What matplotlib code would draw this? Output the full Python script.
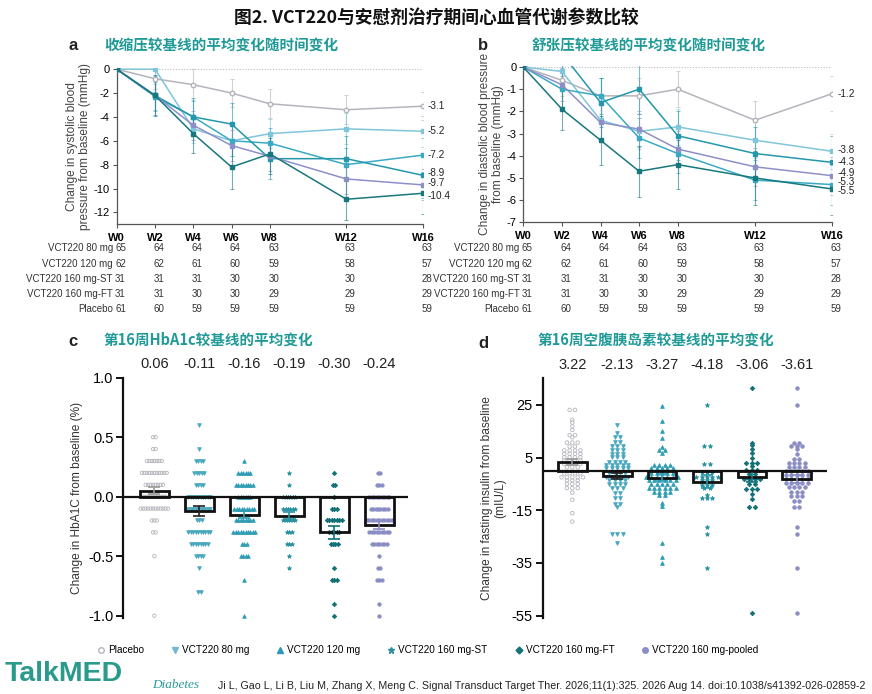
import numpy as np
import matplotlib
matplotlib.use("Agg")
import matplotlib.pyplot as plt
from matplotlib.lines import Line2D
from matplotlib import transforms
from matplotlib.colors import to_rgba

plt.rcParams['font.family'] = ['Liberation Sans', 'Noto Sans CJK SC', 'DejaVu Sans']
plt.rcParams['axes.unicode_minus'] = False

# ---------------- data ----------------
weeks = [0, 2, 4, 6, 8, 12, 16]
week_labels = ['W0', 'W2', 'W4', 'W6', 'W8', 'W12', 'W16']

table_rows = ['VCT220 80 mg', 'VCT220 120 mg', 'VCT220 160 mg-ST', 'VCT220 160 mg-FT', 'Placebo']
n_80 = [65, 64, 64, 64, 63, 63, 63]
n_120 = [62, 62, 61, 60, 59, 58, 57]
n_st = [31, 31, 31, 30, 30, 30, 28]
n_ft = [31, 31, 30, 30, 29, 29, 29]
n_placebo = [61, 60, 59, 59, 59, 59, 59]

# systolic BP change (mmHg)
sbp_placebo = [0, -0.8, -1.3, -2.0, -2.9, -3.4, -3.1]
sbp_80 = [0, 0.0, -5.0, -6.0, -5.4, -5.0, -5.2]
sbp_120 = [0, -2.3, -4.0, -6.0, -6.2, -8.0, -7.2]
sbp_st = [0, -2.2, -4.0, -4.6, -7.5, -7.5, -8.9]
sbp_ft = [0, -2.2, -5.4, -8.2, -7.1, -10.9, -10.4]
sbp_pooled = [0, -2.2, -4.7, -6.4, -7.3, -9.2, -9.7]
sbp_placebo_se = [0, 0.9, 1.3, 1.2, 1.2, 1.2, 1.2]
sbp_80_se = [0, 1.2, 1.2, 1.3, 1.2, 1.3, 1.3]
sbp_120_se = [0, 1.2, 1.3, 1.3, 1.3, 1.4, 1.4]
sbp_st_se = [0, 1.6, 1.6, 1.8, 1.7, 1.9, 1.9]
sbp_ft_se = [0, 1.7, 1.6, 1.8, 1.7, 1.7, 1.7]
sbp_pooled_se = [0, 1.2, 1.2, 1.3, 1.2, 1.3, 1.3]

# diastolic BP change (mmHg)
dbp_placebo = [0, -0.6, -1.3, -1.3, -1.0, -2.4, -1.2]
dbp_80 = [0, -0.2, -2.4, -2.9, -2.7, -3.3, -3.8]
dbp_120 = [0, -1.0, -1.3, -3.2, -3.9, -5.1, -5.3]
dbp_st = [0, 0.6, -1.6, -1.0, -3.1, -3.9, -4.3]
dbp_ft = [0, -1.9, -3.3, -4.7, -4.4, -5.0, -5.5]
dbp_pooled = [0, -0.8, -2.5, -2.8, -3.7, -4.5, -4.9]
dbp_placebo_se = [0, 0.7, 0.8, 0.8, 0.8, 0.85, 0.8]
dbp_80_se = [0, 0.7, 0.8, 0.8, 0.8, 0.8, 0.8]
dbp_120_se = [0, 0.8, 0.8, 0.9, 0.9, 0.9, 0.9]
dbp_st_se = [0, 1.0, 1.1, 1.1, 1.1, 1.2, 1.2]
dbp_ft_se = [0, 0.95, 1.1, 1.15, 1.1, 1.2, 1.15]
dbp_pooled_se = [0, 0.75, 0.8, 0.8, 0.8, 0.85, 0.85]

# HbA1c change at week 16 (%): value levels and number of patients at each
hba_vals_placebo = [0.5, 0.4, 0.3, 0.2, 0.1, 0.0, -0.1, -0.2, -0.3, -0.5, -1.0]
hba_cnt_placebo = [2, 2, 7, 11, 8, 10, 12, 3, 2, 1, 1]
hba_vals_80 = [0.6, 0.4, 0.3, 0.2, 0.1, 0.0, -0.1, -0.2, -0.3, -0.4, -0.5, -0.6, -0.8]
hba_cnt_80 = [1, 1, 4, 5, 4, 10, 10, 3, 10, 8, 4, 1, 2]
hba_vals_120 = [0.3, 0.2, 0.1, 0.0, -0.1, -0.2, -0.3, -0.4, -0.5, -0.7, -1.0]
hba_cnt_120 = [1, 6, 8, 6, 9, 8, 10, 3, 4, 1, 1]
hba_vals_st = [0.2, 0.1, 0.0, -0.1, -0.2, -0.3, -0.4, -0.5, -0.6]
hba_cnt_st = [1, 1, 6, 6, 6, 3, 3, 1, 1]
hba_vals_ft = [0.2, 0.1, 0.0, -0.1, -0.2, -0.3, -0.4, -0.6, -0.7, -0.9, -1.0]
hba_cnt_ft = [1, 2, 1, 3, 7, 5, 4, 1, 3, 1, 1]
hba_vals_pooled = [0.2, 0.1, 0.0, -0.1, -0.2, -0.3, -0.4, -0.5, -0.6, -0.7, -0.9, -1.0]
hba_cnt_pooled = [2, 3, 9, 8, 11, 9, 7, 1, 2, 3, 1, 1]
hba_bar = [0.05, -0.12, -0.15, -0.16, -0.30, -0.24]
hba_se = [0.03, 0.04, 0.03, 0.03, 0.055, 0.035]
hba_labels = ['0.06', '-0.11', '-0.16', '-0.19', '-0.30', '-0.24']

# fasting insulin change at week 16 (mIU/L)
ins_vals_placebo = [23.1, 19.3, 18.3, 16.8, 15.5, 13.5, 12.7, 10.7, 9.2, 7.7, 6.4, 5.1, 3.9,
                    2.6, 1.3, -1.0, -2.5, -3.7, -5.0, -6.6, -8.3, -11.0, -16.1, -19.3]
ins_cnt_placebo = [2, 1, 1, 1, 1, 2, 1, 3, 2, 4, 4, 4, 4, 4, 3, 4, 5, 3, 3, 3, 1, 1, 1, 1]
ins_vals_80 = [17.4, 14.2, 12.7, 11.1, 9.4, 7.7, 6.4, 5.1, 3.5, 2.2, 0.9, -0.7, -2.2, -3.5,
               -5.0, -6.6, -8.3, -10.4, -12.6, -13.6, -24.0, -27.3]
ins_cnt_80 = [1, 1, 2, 2, 3, 3, 3, 3, 4, 5, 5, 4, 5, 4, 4, 3, 2, 2, 2, 1, 3, 1]
ins_vals_120 = [24.6, 18.7, 15.1, 12.3, 9.2, 7.7, 6.6, 2.2, 0.9, -0.7, -2.2, -3.5, -5.0, -6.6,
                -7.9, -9.2, -12.1, -13.4, -27.5, -32.6, -35.1]
ins_cnt_120 = [1, 1, 1, 1, 1, 2, 1, 4, 5, 5, 7, 6, 5, 6, 4, 2, 1, 1, 1, 1, 1]
ins_vals_st = [25.0, 9.4, 2.6, -0.3, -2.2, -3.5, -5.4, -6.6, -9.2, -10.4, -21.2, -24.0, -37.0]
ins_cnt_st = [1, 2, 2, 3, 5, 3, 3, 2, 1, 3, 1, 1, 1]
ins_vals_ft = [31.3, 10.7, 9.7, 8.2, 6.6, 4.7, 2.8, 1.8, 0.3, -1.3, -3.2, -5.0, -7.0, -8.8,
               -10.8, -13.6, -54.1]
ins_cnt_ft = [1, 1, 1, 1, 1, 1, 3, 1, 3, 2, 4, 2, 3, 1, 1, 2, 1]
ins_vals_pooled = [31.3, 25.0, 10.7, 9.4, 8.2, 6.4, 4.4, 2.8, 1.3, 0.0, -1.6, -3.2, -4.7, -6.3,
                   -7.9, -9.6, -11.3, -13.6, -21.2, -24.0, -37.0, -54.1]
ins_cnt_pooled = [1, 1, 2, 3, 1, 1, 2, 4, 4, 5, 5, 5, 5, 4, 3, 3, 2, 2, 1, 1, 1, 1]
ins_bar = [3.2, -1.9, -2.6, -4.2, -2.2, -3.1]
ins_se = [1.2, 1.2, 1.3, 2.4, 2.2, 1.5]
ins_labels = ['3.22', '-2.13', '-3.27', '-4.18', '-3.06', '-3.61']

# ---------------- styles ----------------
C_PLA = '#b4b4bc'
C_80 = '#80c6da'
C_120 = '#3aaac4'
C_ST = '#2497ab'
C_FT = '#17787e'
C_POOL = '#8d90c8'
TEAL_TITLE = '#1f9a96'

fig = plt.figure(figsize=(8.72, 6.94), dpi=100)
W, H = 872.0, 694.0


def px_axes(l, r, t, b):
    return fig.add_axes([l / W, 1 - b / H, (r - l) / W, (b - t) / H])


def line_panel(ax, series, ses, ylim, yticks, ylabel, end_dy):
    ax.axhline(0, color='#bdbdbd', lw=0.8, ls=(0, (1, 1.5)), zorder=0)
    cols = [C_PLA, C_80, C_120, C_ST, C_POOL, C_FT]
    for vals, se, col in zip(series, ses, cols):
        is_pla = col == C_PLA
        ax.errorbar(weeks, vals, yerr=se, color=col, lw=1.1,
                    marker='o' if is_pla else 's', ms=3.2 if is_pla else 2.2,
                    mfc='white' if is_pla else col, mec=col,
                    ecolor=to_rgba(col, 0.6), elinewidth=0.8, capsize=1.6,
                    capthick=0.7, zorder=3)
    for vals, col, dy in zip(series, cols, end_dy):
        ax.text(16.25, vals[-1] + dy, '-' + '%.1f' % abs(vals[-1]), fontsize=7.2,
                color='#222', va='center', ha='left', clip_on=False)
    ax.set_xlim(0, 16)
    ax.set_ylim(*ylim)
    ax.set_yticks(yticks)
    ax.set_yticklabels([str(v) for v in yticks])
    ax.set_xticks(weeks)
    ax.set_xticklabels(week_labels, fontweight='bold')
    for s in ['top', 'right']:
        ax.spines[s].set_visible(False)
    for s in ['left', 'bottom']:
        ax.spines[s].set_color('#555555')
        ax.spines[s].set_linewidth(0.9)
    ax.tick_params(labelsize=8, length=3, color='#555555', pad=2)
    ax.tick_params(axis='x', labelsize=8, pad=3)
    ax.set_ylabel(ylabel, fontsize=8.6, color='#444', linespacing=1.1, labelpad=2)
    # number-at-risk table
    tr = transforms.blended_transform_factory(ax.transData, fig.transFigure)
    rows_px = [248, 264, 279, 294, 309]
    for name, ns, ypx in zip(table_rows, [n_80, n_120, n_st, n_ft, n_placebo], rows_px):
        yf = 1 - ypx / H
        ax.text(-0.2, yf, name, transform=tr, ha='right', va='center',
                fontsize=7.0, color='#333')
        for wk, n in zip(weeks, ns):
            ax.text(wk + 0.2, yf, str(n), transform=tr, ha='center', va='center',
                    fontsize=7.0, color='#333')


def swarm_positions(vals, cnts, x0, step):
    xs, ys = [], []
    for v, c in zip(vals, cnts):
        off = (np.arange(c) - (c - 1) / 2.0) * step
        xs.extend(x0 + off)
        ys.extend([v] * c)
    return xs, ys


def dot_panel(ax, groups, bars, ses, labels, ylim, yticks, ylabel, step, ms_scale):
    styles = [('o', 'none', C_PLA, 1.0), ('v', '#4aa8bf', '#4aa8bf', 1.1),
              ('^', '#2e9db3', '#2e9db3', 1.1), ('*', '#2a93a3', '#2a93a3', 1.5),
              ('D', '#127177', '#127177', 0.8), ('o', '#8a8dc4', '#8a8dc4', 1.0)]
    err_cols = ['#999999', '#222222', '#2e9db3', '#2a93a3', '#127177', '#8a8dc4']
    for i, ((vals, cnts), (mk, fc, ec, sc)) in enumerate(zip(groups, styles)):
        xs, ys = swarm_positions(vals, cnts, i, step)
        ax.scatter(xs, ys, s=ms_scale * sc, marker=mk, facecolors=fc, edgecolors=ec,
                   linewidths=0.6, zorder=2)
    x = np.arange(len(bars))
    ax.bar(x, bars, width=0.64, facecolor='none', edgecolor='#111111', linewidth=2.0, zorder=3)
    for i in range(len(bars)):
        ax.errorbar(x[i], bars[i], yerr=ses[i], color=err_cols[i], lw=1.2,
                    capsize=4, capthick=1.2, zorder=4)
    ax.axhline(0, color='#111111', lw=1.6, zorder=5)
    for i, lab in enumerate(labels):
        ax.text(x[i], 1.055, lab, transform=transforms.blended_transform_factory(ax.transData, ax.transAxes),
                ha='center', va='center', fontsize=10.5, color='#222')
    ax.set_ylim(*ylim)
    ax.set_yticks(yticks)
    ax.set_xticks([])
    for s in ['top', 'right', 'bottom']:
        ax.spines[s].set_visible(False)
    ax.spines['left'].set_linewidth(1.6)
    ax.spines['left'].set_color('#111111')
    ax.tick_params(axis='y', labelsize=10.5, length=5, width=1.4, color='#111111', pad=2)
    ax.set_ylabel(ylabel, fontsize=8.6, color='#333', linespacing=1.1)


# ---------------- panel a ----------------
ax_a = px_axes(116.7, 423, 68.0, 224.3)
line_panel(ax_a,
           [sbp_placebo, sbp_80, sbp_120, sbp_st, sbp_pooled, sbp_ft],
           [sbp_placebo_se, sbp_80_se, sbp_120_se, sbp_st_se, sbp_pooled_se, sbp_ft_se],
           (-13, 0.1), [0, -2, -4, -6, -8, -10, -12],
           'Change in systolic blood\npressure from baseline (mmHg)',
           [0, 0, 0, 0.2, 0.15, -0.2])

# ---------------- panel b ----------------
ax_b = px_axes(523.3, 832.3, 65.9, 222.3)
line_panel(ax_b,
           [dbp_placebo, dbp_80, dbp_120, dbp_st, dbp_pooled, dbp_ft],
           [dbp_placebo_se, dbp_80_se, dbp_120_se, dbp_st_se, dbp_pooled_se, dbp_ft_se],
           (-7, 0.05), [0, -1, -2, -3, -4, -5, -6, -7],
           'Change in diastolic blood pressure\nfrom baseline (mmHg)',
           [0, 0.05, 0.12, 0, 0.1, -0.1])

# ---------------- panel c ----------------
ax_c = px_axes(123.3, 408, 377.7, 618.3)
dot_panel(ax_c,
          [(hba_vals_placebo, hba_cnt_placebo), (hba_vals_80, hba_cnt_80),
           (hba_vals_120, hba_cnt_120), (hba_vals_st, hba_cnt_st),
           (hba_vals_ft, hba_cnt_ft), (hba_vals_pooled, hba_cnt_pooled)],
          hba_bar, hba_se, hba_labels, (-1.022, 1.0), [1.0, 0.5, 0.0, -0.5, -1.0],
          'Change in HbA1C from baseline (%)', 0.055, 6)
ax_c.set_xlim(-0.69, 5.64)
ax_c.set_yticklabels(['1.0', '0.5', '0.0', '-0.5', '-1.0'])

# ---------------- panel d ----------------
ax_d = px_axes(542.7, 827.3, 378.3, 617.7)
dot_panel(ax_d,
          [(ins_vals_placebo, ins_cnt_placebo), (ins_vals_80, ins_cnt_80),
           (ins_vals_120, ins_cnt_120), (ins_vals_st, ins_cnt_st),
           (ins_vals_ft, ins_cnt_ft), (ins_vals_pooled, ins_cnt_pooled)],
          ins_bar, ins_se, ins_labels, (-55.8, 35.1), [25, 5, -15, -35, -55],
          'Change in fasting insulin from baseline\n(mIU/L)', 0.12, 6.5)
ax_d.set_xlim(-0.66, 5.68)

# ---------------- titles / text ----------------
cjk = ['Noto Sans CJK SC', 'DejaVu Sans']
fig.text(0.5, 1 - 18 / H, '图2. VCT220与安慰剂治疗期间心血管代谢参数比较', family=cjk,
         fontsize=12.8, fontweight='bold', ha='center', va='center', color='#111')
panel_titles = [('a', 68, 45, '收缩压较基线的平均变化随时间变化', 104, 46),
                ('b', 478, 45, '舒张压较基线的平均变化随时间变化', 532, 46),
                ('c', 68, 341, '第16周HbA1c较基线的平均变化', 103, 340),
                ('d', 478, 344, '第16周空腹胰岛素较基线的平均变化', 537, 341)]
for letter, lx, ly, title, tx, ty in panel_titles:
    fig.text(lx / W, 1 - ly / H, letter, fontsize=12, fontweight='bold', ha='left',
             va='center', color='#222')
    fig.text(tx / W, 1 - ty / H, title, family=cjk, fontsize=10.5, fontweight='bold',
             ha='left', va='center', color=TEAL_TITLE)

# legend
handles = [
    Line2D([], [], ls='none', marker='o', ms=4, mfc='none', mec=C_PLA, label='Placebo'),
    Line2D([], [], ls='none', marker='v', ms=5, color='#72b9d0', label='VCT220 80 mg'),
    Line2D([], [], ls='none', marker='^', ms=5, color='#2a9ab4', label='VCT220 120 mg'),
    Line2D([], [], ls='none', marker='*', ms=5, color='#2a8fa0', label='VCT220 160 mg-ST'),
    Line2D([], [], ls='none', marker='D', ms=3.5, color='#137378', label='VCT220 160 mg-FT'),
    Line2D([], [], ls='none', marker='o', ms=4, color='#8c8fc5', label='VCT220 160 mg-pooled'),
]
fig.legend(handles=handles, loc='center', bbox_to_anchor=(0.49, 1 - 650 / H), ncol=6,
           frameon=False, fontsize=7.2, handletextpad=0.2, columnspacing=2.6,
           handlelength=1.0)

# footer
fig.text(5 / W, 1 - 674 / H, 'TalkMED', fontsize=20.5, fontweight='bold', color='#2a9a8c',
         ha='left', va='center')
fig.text(152 / W, 1 - 685 / H, 'Diabetes', family='Liberation Serif', style='italic',
         fontsize=9.5, color='#2a9a9a', ha='left', va='center')
fig.text(218 / W, 1 - 686 / H,
         'Ji L, Gao L, Li B, Liu M, Zhang X, Meng C. Signal Transduct Target Ther. '
         '2026;11(1):325. 2026 Aug 14. doi:10.1038/s41392-026-02859-2',
         fontsize=7.7, color='#222', ha='left', va='center')

fig.savefig('out.png', dpi=100)
